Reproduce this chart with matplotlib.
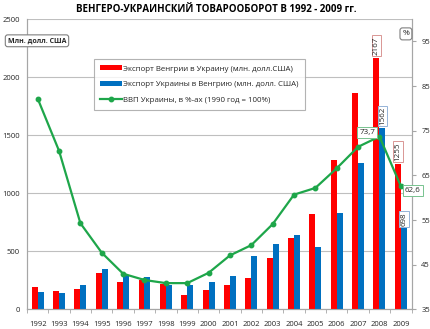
import matplotlib
matplotlib.use("Agg")
import matplotlib.pyplot as plt
import numpy as np

plt.rcParams['font.family'] = ['Open Sans', 'DejaVu Sans']

years = ['1992', '1993', '1994', '1995', '1996', '1997', '1998', '1999', '2000',
         '2001', '2002', '2003', '2004', '2005', '2006', '2007', '2008', '2009']
export_hu = [195, 157, 180, 315, 235, 250, 220, 125, 165,
             208, 272, 439, 613, 822, 1289, 1860, 2167, 1255]
export_ua = [152, 138, 215, 345, 300, 280, 215, 215, 234,
             292, 460, 566, 645, 540, 833, 1260, 1562, 698]
gdp = [82.2, 70.5, 54.3, 47.7, 43.0, 41.6, 40.9, 40.9, 43.2,
       47.1, 49.4, 54.1, 60.7, 62.2, 66.6, 71.4, 73.7, 62.6]

label_hu = 'Экспорт Венгрии в Украину (млн. долл.США)'
label_ua = 'Экспорт Украины в Венгрию (млн. долл. США)'
label_gdp = 'ВВП Украины, в %-ах (1990 год = 100%)'
title = 'ВЕНГЕРО-УКРАИНСКИЙ ТОВАРООБОРОТ В 1992 - 2009 гг.'

red = '#FF0000'
blue = '#0070C0'
green = '#1EA64A'
axis_gray = '#A6A6A6'
text_col = '#262626'

fig = plt.figure(figsize=(4.3, 3.29), dpi=100)
ax = fig.add_axes([0.0628, 0.0593, 0.8942, 0.8829])
ax2 = ax.twinx()

x = np.arange(len(years))
w = 0.28
b1 = ax.bar(x - w / 2, export_hu, width=w, color=red, label=label_hu, zorder=3)
b2 = ax.bar(x + w / 2, export_ua, width=w, color=blue, label=label_ua, zorder=3)
ln, = ax2.plot(x, gdp, color=green, lw=1.6, marker='o', ms=3.2, label=label_gdp, zorder=4)

ax.set_xlim(-0.5, len(years) - 0.5)
ax.set_ylim(0, 2500)
ax.set_yticks(np.arange(0, 2501, 500))
ax2.set_ylim(35, 100)
ax2.set_yticks(np.arange(35, 96, 10))

ax.set_xticks(x)
ax.set_xticklabels(years, fontsize=5.5, color=text_col)
ax.set_xticks(np.arange(-0.5, len(years), 1), minor=True)
ax.tick_params(axis='x', which='major', length=0, pad=8)
ax.tick_params(axis='x', which='minor', length=3, color=axis_gray)
ax.tick_params(axis='y', labelsize=5.5, colors=text_col, length=0, pad=5)
ax2.tick_params(axis='y', labelsize=5.5, colors=text_col, length=3, color=axis_gray, pad=4)
for t in ax.get_yticklabels() + ax2.get_yticklabels():
    t.set_color(text_col)

ax.grid(axis='y', color='#BFBFBF', lw=0.8, zorder=0)
ax.set_axisbelow(True)
for a in (ax, ax2):
    a.spines['top'].set_visible(False)
    a.spines['left'].set_color(axis_gray)
    a.spines['right'].set_color(axis_gray)
    a.spines['bottom'].set_color(axis_gray)

fig.suptitle(title, x=0.502, y=0.988, fontsize=7.0, fontweight='bold', color='black')

fig.text(0.018, 0.876, 'Млн. долл. США', fontsize=5.0,
         fontweight='bold', color=text_col, ha='left', va='center',
         bbox=dict(boxstyle='round,pad=0.35', fc='white', ec='#7F7F7F', lw=0.8))
fig.text(0.944, 0.897, '%', fontsize=6, color=text_col, ha='center', va='center',
         bbox=dict(boxstyle='round,pad=0.3', fc='white', ec='#7F7F7F', lw=0.8))

leg = ax.legend(handles=[b1, b2, ln], loc='upper left', bbox_to_anchor=(0.163, 0.875),
                fontsize=5.7, frameon=True, fancybox=False, edgecolor='#A0A0A0',
                handlelength=2.8, handleheight=0.6, borderpad=0.75, labelspacing=1.05,
                handletextpad=0.2)
leg.get_frame().set_linewidth(0.8)
for t in leg.get_texts():
    t.set_color(text_col)

def bar_label(axis, xi, val, ec):
    axis.annotate(str(val), xy=(xi, val), xytext=(0, 2), textcoords='offset points',
                  rotation=90, ha='center', va='bottom', fontsize=5.8, color=text_col,
                  bbox=dict(boxstyle='square,pad=0.15', fc='white', ec=ec, lw=0.7), zorder=6)

i8 = years.index('2008')
i9 = years.index('2009')
bar_label(ax, i8 - w / 2, export_hu[i8], '#D99694')
bar_label(ax, i8 + w / 2, export_ua[i8], '#95B3D7')
bar_label(ax, i9 - w / 2, export_hu[i9], '#D99694')
bar_label(ax, i9 + w / 2, export_ua[i9], '#95B3D7')

def fmt(v):
    return f'{v:.1f}'.replace('.', ',')

ax2.annotate(fmt(gdp[i8]), xy=(i8, gdp[i8]), xytext=(-3, 3), textcoords='offset points',
             ha='right', va='center', fontsize=5.8, color=text_col,
             bbox=dict(boxstyle='square,pad=0.25', fc='white', ec='#77C38F', lw=0.7), zorder=6)
ax2.annotate(fmt(gdp[i9]), xy=(i9, gdp[i9]), xytext=(3, -3), textcoords='offset points',
             ha='left', va='center', fontsize=5.8, color=text_col,
             bbox=dict(boxstyle='square,pad=0.25', fc='white', ec='#77C38F', lw=0.7), zorder=6)

fig.savefig('out.png', dpi=100)
